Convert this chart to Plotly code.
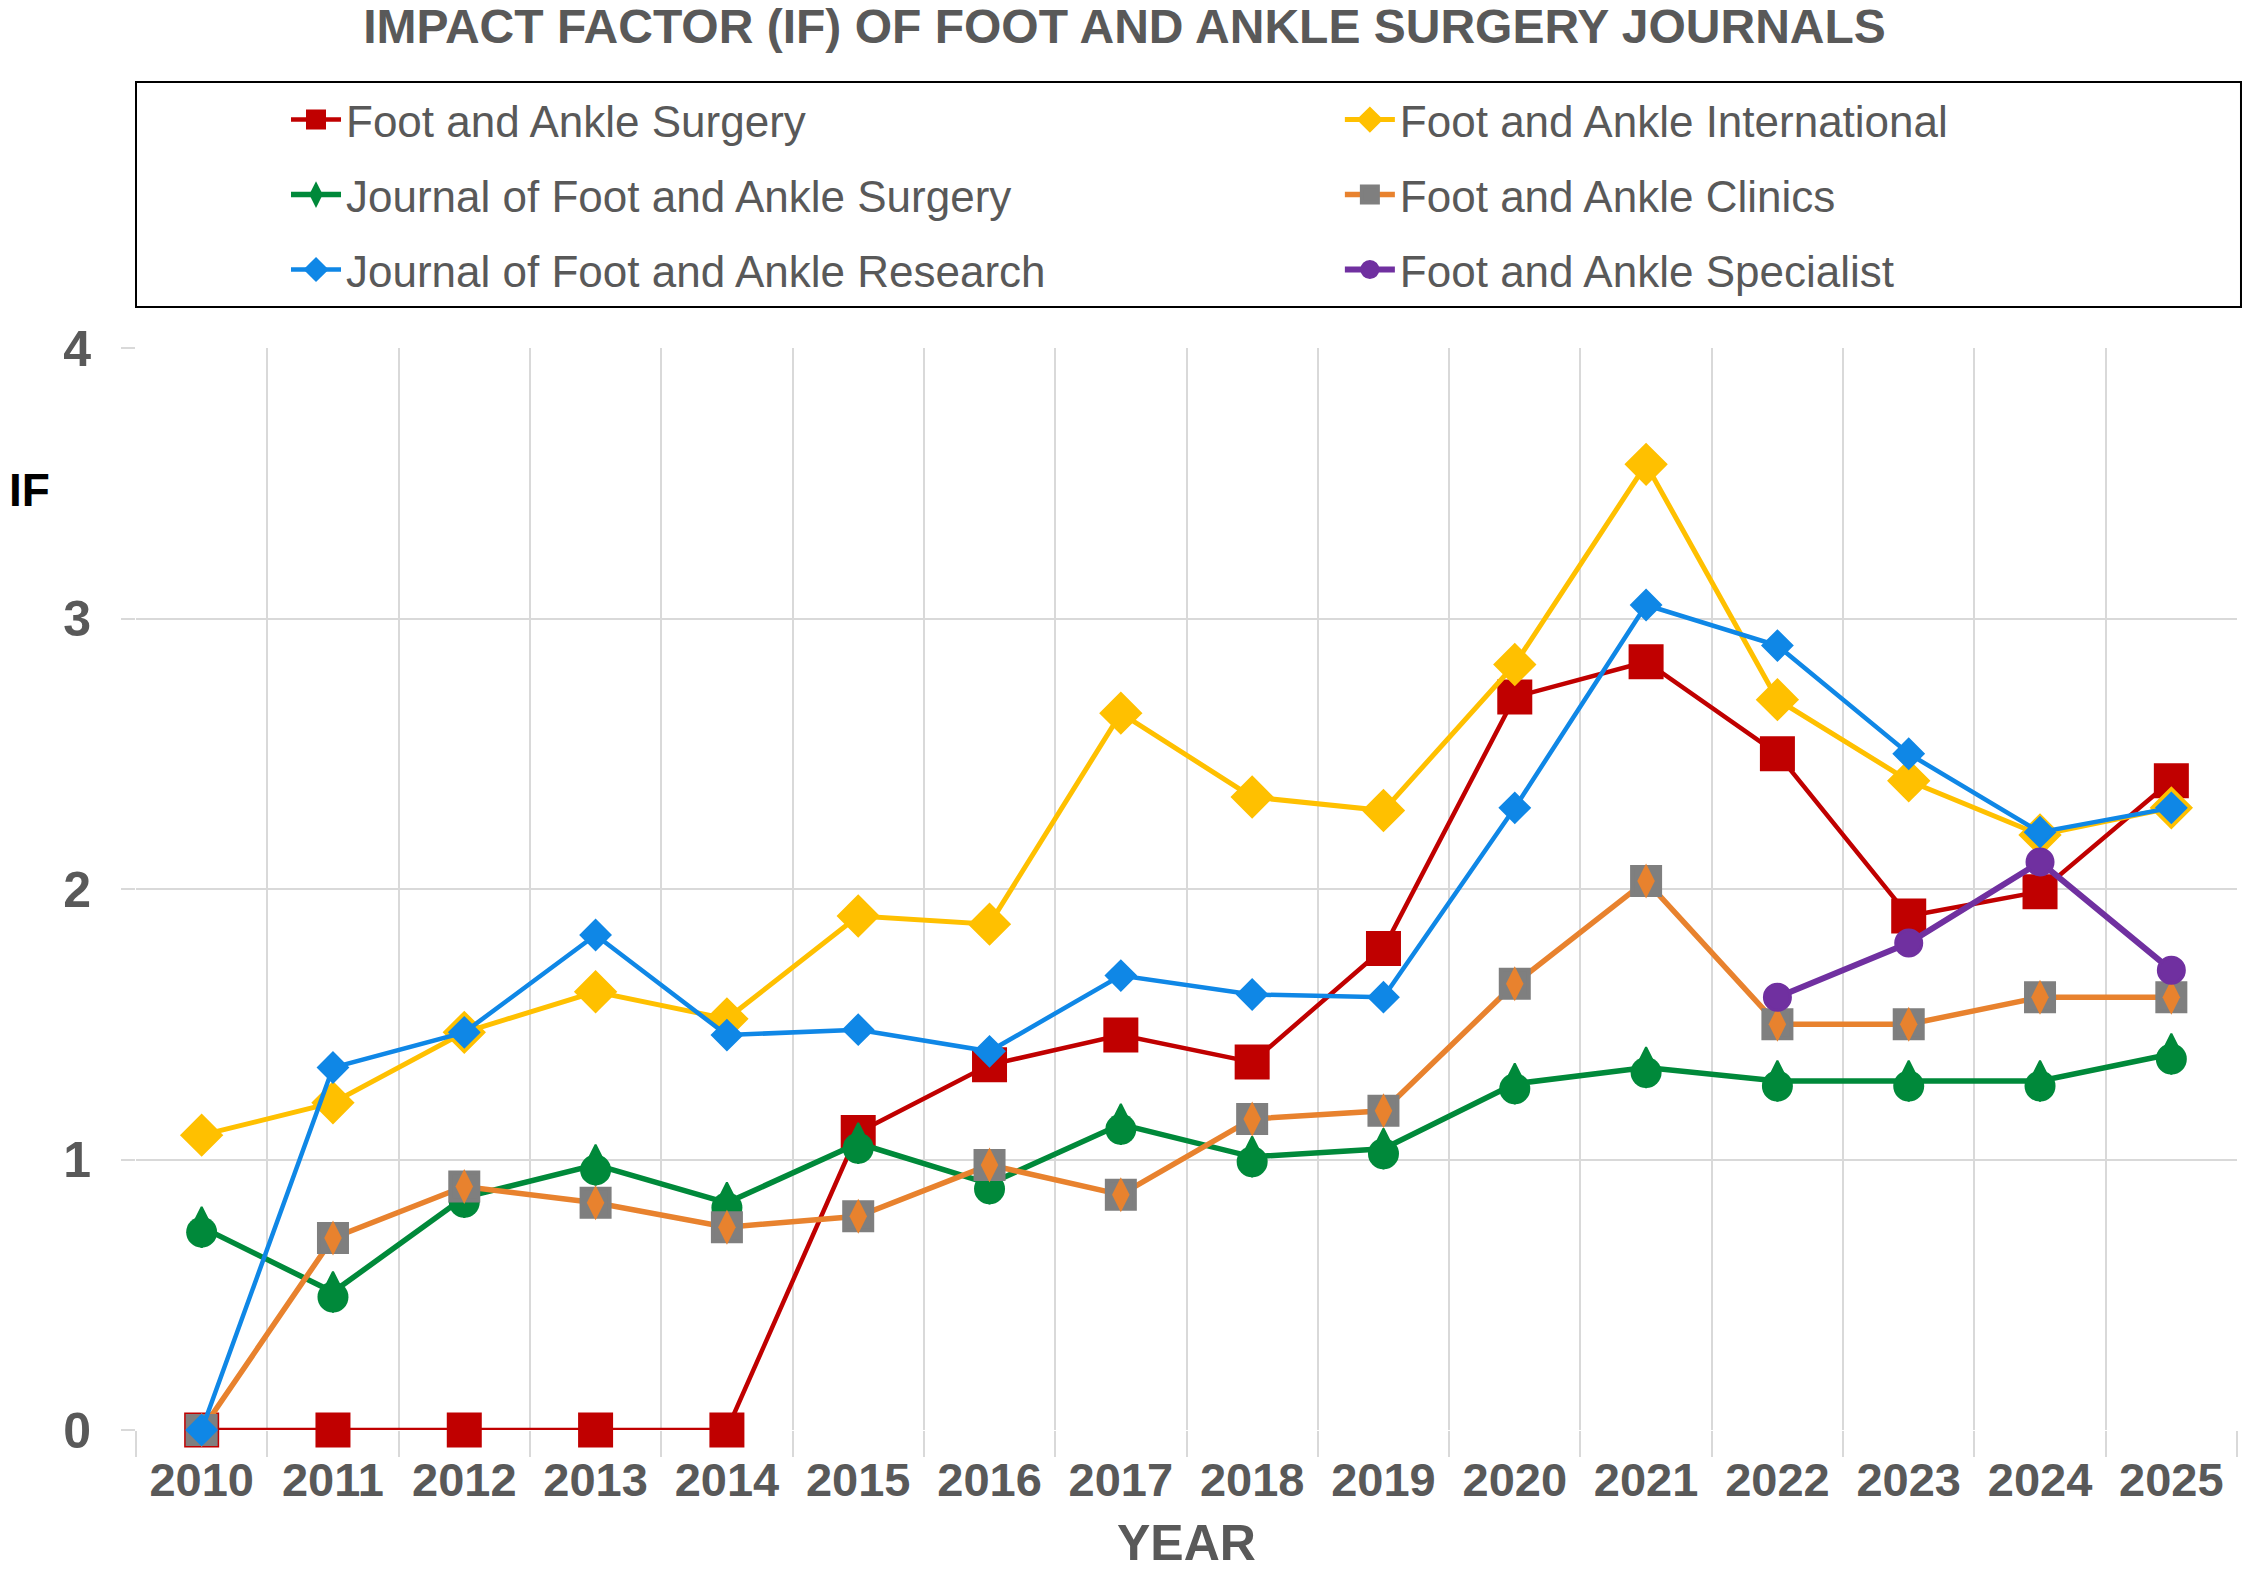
import plotly.graph_objects as go

# data
years = [2010, 2011, 2012, 2013, 2014, 2015, 2016, 2017, 2018, 2019, 2020, 2021, 2022, 2023, 2024, 2025]
year_labels = [str(y) for y in years]

fas = [0, 0, 0, 0, 0, 1.10, 1.35, 1.46, 1.36, 1.78, 2.71, 2.84, 2.50, 1.90, 1.99, 2.40]
fai = [1.09, 1.21, 1.47, 1.62, 1.52, 1.90, 1.87, 2.65, 2.34, 2.29, 2.83, 3.57, 2.70, 2.40, 2.20, 2.30]
jfas = [0.75, 0.51, 0.86, 0.98, 0.84, 1.06, 0.91, 1.13, 1.01, 1.04, 1.28, 1.34, 1.29, 1.29, 1.29, 1.39]
fac = [0, 0.71, 0.90, 0.84, 0.75, 0.79, 0.98, 0.87, 1.15, 1.18, 1.65, 2.03, 1.50, 1.50, 1.60, 1.60]
jfar = [0, 1.34, 1.47, 1.83, 1.46, 1.48, 1.40, 1.68, 1.61, 1.60, 2.30, 3.05, 2.90, 2.50, 2.21, 2.30]
fasp = [None, None, None, None, None, None, None, None, None, None, None, None, 1.60, 1.80, 2.10, 1.70]

FONT = "Liberation Sans, Arial, sans-serif"
GREY_TXT = "#595959"
GRID = "#D9D9D9"
GREEN = "#00893A"
ORANGE = "#E8822E"

fig = go.Figure()

def add(name, y, color, symbol, size, lw, legend, mcolor=None, mline=4):
    mc = mcolor or color
    fig.add_trace(go.Scatter(
        x=years, y=y, name=name, mode="lines+markers",
        line=dict(color=color, width=lw),
        marker=dict(symbol=symbol, size=size, color=mc, line=dict(color=mc, width=mline)),
        legend=legend, cliponaxis=False,
    ))

def overlay(y, **marker):
    fig.add_trace(go.Scatter(x=years, y=y, mode="markers", showlegend=False,
                             cliponaxis=False, hoverinfo="skip", marker=marker))

# drawn bottom to top as in the original
add("Foot and Ankle Surgery", fas, "#C00000", "square", 31, 4.5, "legend")

# teardrop shaped marker: tall diamond plus a circle pushed slightly down
add("Journal of Foot and Ankle Surgery", jfas, GREEN, "diamond-tall", 29, 5.5, "legend3", mline=2)
overlay(jfas, symbol="circle", size=31, color=GREEN, angle=0, standoff=5)

add("Foot and Ankle Clinics", fac, ORANGE, "square", 28, 5.5, "legend4", mcolor="#7F7F7F")
overlay(fac, symbol="diamond-tall", size=25, color=ORANGE)

add("Foot and Ankle International", fai, "#FFC000", "diamond", 29, 5, "legend2")
add("Journal of Foot and Ankle Research", jfar, "#0F87E6", "diamond", 22, 4.5, "legend5", mline=3)
add("Foot and Ankle Specialist", fasp, "#7030A0", "circle", 26, 6, "legend6", mline=3)

leg = dict(orientation="h", xanchor="left", yanchor="middle", bgcolor="rgba(0,0,0,0)",
           itemwidth=50, font=dict(family=FONT, size=44, color=GREY_TXT))
col1, col2 = 0.0714, 0.5730
row1, row2, row3 = 1.2107, 1.1414, 1.0721

fig.update_layout(
    width=2249, height=1570,
    paper_bgcolor="white", plot_bgcolor="white",
    margin=dict(l=136, r=12, t=348, b=140),
    font=dict(family=FONT, color=GREY_TXT),
    title=dict(text="<b>IMPACT FACTOR (IF) OF FOOT AND ANKLE SURGERY JOURNALS</b>",
               x=0.5, xanchor="center", y=0.9834, yref="container", yanchor="middle",
               font=dict(family=FONT, size=48, color=GREY_TXT)),
    legend=dict(leg, x=col1, y=row1),
    legend2=dict(leg, x=col2, y=row1),
    legend3=dict(leg, x=col1, y=row2),
    legend4=dict(leg, x=col2, y=row2),
    legend5=dict(leg, x=col1, y=row3),
    legend6=dict(leg, x=col2, y=row3),
    shapes=[dict(type="rect", xref="paper", yref="paper", x0=0, x1=1.0019, y0=1.0379, y1=1.2458,
                 line=dict(color="black", width=2), fillcolor="rgba(0,0,0,0)")],
    annotations=[
        dict(text="<b>IF</b>", xref="paper", yref="paper", x=-0.0614, y=0.8688,
             xanchor="left", yanchor="middle", showarrow=False,
             font=dict(family=FONT, size=46, color="black")),
        dict(text="<b>YEAR</b>", xref="paper", yref="paper", x=0.5, y=-0.1044,
             xanchor="center", yanchor="middle", showarrow=False,
             font=dict(family=FONT, size=50, color=GREY_TXT)),
    ],
)

fig.update_xaxes(
    range=[2009.5, 2025.5], tickmode="array", tickvals=years, ticktext=year_labels,
    showgrid=False, zeroline=False, showline=False, ticks="", automargin=False,
    tickfont=dict(family=FONT, size=47, color=GREY_TXT, weight="bold"),
    ticklabelstandoff=18,
    minor=dict(tick0=2009.5, dtick=1, showgrid=True, gridcolor=GRID, gridwidth=2,
               ticks="outside", ticklen=26, tickcolor=GRID, tickwidth=2),
)
fig.update_yaxes(
    range=[0, 4], dtick=1, showgrid=True, gridcolor=GRID, gridwidth=2, zeroline=False,
    showline=False, ticks="outside", ticklen=14, tickcolor=GRID, tickwidth=2, automargin=False,
    tickfont=dict(family=FONT, size=50, color=GREY_TXT, weight="bold"),
    ticklabelstandoff=20,
)

# drop the browser's default page margin so the figure sits at the top-left corner
fig.write_html("out.html", config={"displayModeBar": False},
               post_script="document.body.style.margin='0';")
